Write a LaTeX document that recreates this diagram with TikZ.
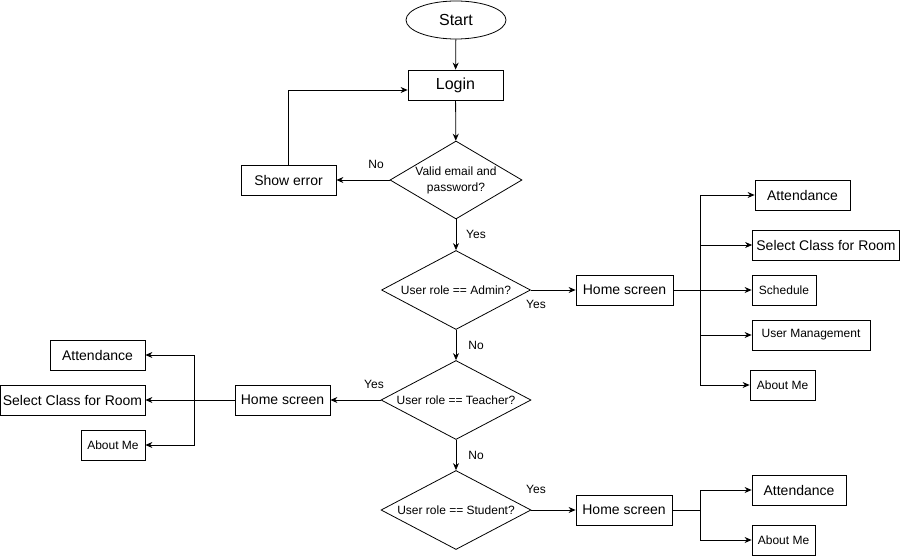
\documentclass[tikz,border=0pt]{standalone}
\usepackage{fontspec}
\setmainfont{Liberation Sans}
\usetikzlibrary{shapes.geometric,arrows.meta,calc}
\begin{document}
\begin{tikzpicture}[x=1pt,y=-1pt,
  line width=0.8pt,
  box/.style={draw,rectangle,inner sep=0pt,minimum height=30pt,font=\fontsize{14}{16}\selectfont},
  sbox/.style={box,font=\fontsize{12}{14}\selectfont},
  dia/.style={draw,diamond,inner sep=0pt,minimum width=150pt,minimum height=80pt,font=\fontsize{12}{16}\selectfont},
  lab/.style={font=\fontsize{12}{14}\selectfont,inner sep=0pt},
  arr/.style={-{Stealth[length=7pt,width=6pt]}},
  ln/.style={}
]
\useasboundingbox (0,0) rectangle (901,556);
% main column
\node[draw,ellipse,inner sep=0pt,minimum width=100pt,minimum height=38pt,font=\fontsize{16}{18}\selectfont] (start) at (456,20) {Start};
\node[box,minimum width=95pt,font=\fontsize{16}{18}\selectfont] (login) at (455.5,85) {Login};
\node[dia,minimum width=132pt,minimum height=78pt] (d1) at (456,180) {\makebox[0pt]{\begin{tabular}{@{}c@{}}Valid email and\\password?\end{tabular}}};
\node[box,minimum width=95pt] (err) at (288.5,180) {Show error};
\node[dia,minimum width=149pt,minimum height=79pt] (d2) at (456,290) {\makebox[0pt]{User role == Admin?}};
\node[dia,minimum width=150pt,minimum height=79pt] (d3) at (456,400) {\makebox[0pt]{User role == Teacher?}};
\node[dia,minimum width=150pt,minimum height=79pt] (d4) at (456,510) {\makebox[0pt]{User role == Student?}};
% admin
\node[box,minimum width=97pt] (homeA) at (624.5,290) {Home screen};
\node[box,minimum width=95pt] (attA) at (802.5,195) {Attendance};
\node[box,minimum width=147pt] (selA) at (826,245) {Select Class for Room};
\node[sbox,minimum width=64pt] (schA) at (784,290) {Schedule};
\node[sbox,minimum width=118pt] (usrA) at (811,335) {User Management};
\node[sbox,minimum width=65pt] (abA) at (782.5,385) {About Me};
\coordinate (bA) at (700,290);
% teacher
\node[box,minimum width=95pt] (homeT) at (282.5,400) {Home screen};
\node[box,minimum width=95pt] (attT) at (97.5,355) {Attendance};
\node[box,minimum width=145pt] (selT) at (72.5,400) {Select Class for Room};
\node[sbox,minimum width=64pt] (abT) at (113,445) {About Me};
\coordinate (bT) at (194,400);
% student
\node[box,minimum width=96pt] (homeS) at (624,510) {Home screen};
\node[box,minimum width=94pt] (attS) at (799,490) {Attendance};
\node[sbox,minimum width=63pt] (abS) at (783.5,540) {About Me};
\coordinate (bS) at (700,510);
% connectors main
\draw[arr] (start) -- (login);
\draw[arr] (login) -- (d1);
\draw[arr] (d1.west) -- (err.east);
\node[lab] (no1) at (376,164) {No};
\draw[arr] (err.north) |- ([yshift=-5pt]login.west);
\draw[arr] (d1.south) -- (d2.north);
\node[lab] (yes1) at (476,234) {Yes};
\draw[arr] (d2.south) -- (d3.north);
\node[lab] (no2) at (476,345) {No};
\draw[arr] (d3.south) -- (d4.north);
\node[lab] (no3) at (476,455) {No};
% admin connectors
\draw[arr] (d2.east) -- (homeA.west);
\node[lab] (yes2) at (536,304) {Yes};
\draw (homeA.east) -- (bA);
\draw[arr] (bA) |- (attA.west);
\draw[arr] (bA) |- (selA.west);
\draw[arr] (bA) -- (schA.west);
\draw[arr] (bA) |- (usrA.west);
\draw[arr] (bA) |- (abA.west);
% teacher connectors
\draw[arr] (d3.west) -- (homeT.east);
\node[lab] (yes3) at (374,384) {Yes};
\draw (homeT.west) -- (bT);
\draw[arr] (bT) |- (attT.east);
\draw[arr] (bT) -- (selT.east);
\draw[arr] (bT) |- (abT.east);
% student connectors
\draw[arr] (d4.east) -- (homeS.west);
\node[lab] (yes4) at (536,489) {Yes};
\draw (homeS.east) -- (bS);
\draw[arr] (bS) |- (attS.west);
\draw[arr] (bS) |- (abS.west);
\end{tikzpicture}
\end{document}
